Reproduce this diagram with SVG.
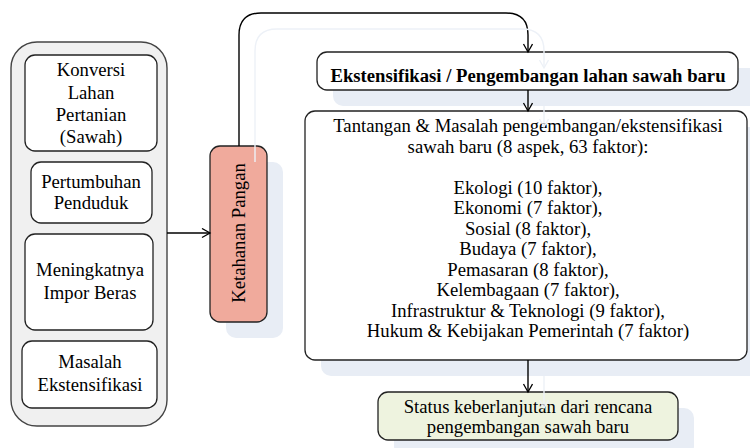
<svg xmlns="http://www.w3.org/2000/svg" width="750" height="448" viewBox="0 0 750 448">
<defs>
<marker id="arr" markerWidth="12" markerHeight="12" refX="9" refY="5" orient="auto" markerUnits="userSpaceOnUse">
<path d="M1,0.5 L9,5 L1,9.5" fill="none" stroke="#000" stroke-width="1.3"/>
</marker>
<marker id="garr" markerWidth="12" markerHeight="12" refX="9" refY="5" orient="auto" markerUnits="userSpaceOnUse">
<path d="M1,0.5 L9,5 L1,9.5" fill="none" stroke="#edf1f7" stroke-width="1.3"/>
</marker>
</defs>
<style>
.box{fill:#fff;stroke:#222;stroke-width:1.3}
.sh{fill:#e8edf5}
.con{fill:none;stroke:#000;stroke-width:1.4}
.ghost{fill:none;stroke:#edf1f7;stroke-width:1.4}
</style>
<rect width="750" height="448" fill="#fff"/>
<g id="shadows">
<rect class="sh" x="226" y="162" width="57" height="176" rx="10"/>
<rect class="sh" x="333" y="68" width="430" height="38" rx="10"/>
<rect class="sh" x="321" y="127" width="440" height="249" rx="10"/>
<rect class="sh" x="394" y="408" width="300" height="48" rx="10"/>
</g>
<g font-family="Liberation Serif, Times New Roman, serif" font-size="18.7" text-anchor="middle" fill="#000">
<g id="left-group">
<rect x="11" y="42" width="156" height="384" rx="26" fill="#f0f0f0" stroke="#444" stroke-width="1.4"/>
</g>
<g id="konversi">
<rect class="box" x="25" y="55" width="132" height="96" rx="10"/>
<text x="91" y="76">Konversi</text>
<text x="91" y="98.5">Lahan</text>
<text x="91" y="120.5">Pertanian</text>
<text x="91" y="143">(Sawah)</text>
</g>
<g id="pertumbuhan">
<rect class="box" x="31" y="162" width="121" height="61" rx="10"/>
<text x="91" y="188">Pertumbuhan</text>
<text x="91" y="209">Penduduk</text>
</g>
<g id="impor">
<rect class="box" x="25" y="234" width="128" height="96" rx="10"/>
<text x="90" y="276">Meningkatnya</text>
<text x="90" y="298.5">Impor Beras</text>
</g>
<g id="masalah">
<rect class="box" x="22" y="341" width="135" height="67" rx="10"/>
<text x="90" y="368">Masalah</text>
<text x="90" y="391">Ekstensifikasi</text>
</g>
<g id="ketahanan">
<rect x="210" y="146" width="57" height="176" rx="10" fill="#f0aa9c" stroke="#222" stroke-width="1.3"/>
<text transform="translate(245,233) rotate(-90)" x="0" y="0">Ketahanan Pangan</text>
</g>
<g id="ekstensifikasi">
<rect class="box" x="317" y="52" width="421" height="38" rx="10"/>
<text font-weight="bold" x="528" y="82">Ekstensifikasi / Pengembangan lahan sawah baru</text>
</g>
<g id="tantangan">
<rect class="box" x="305" y="111" width="442" height="249" rx="10"/>
<text x="528" y="132">Tantangan &amp; Masalah pengembangan/ekstensifikasi</text>
<text x="528" y="152.5">sawah baru (8 aspek, 63 faktor):</text>
<text x="528" y="193.5">Ekologi (10 faktor),</text>
<text x="528" y="214">Ekonomi (7 faktor),</text>
<text x="528" y="234.5">Sosial (8 faktor),</text>
<text x="528" y="255">Budaya (7 faktor),</text>
<text x="528" y="275.5">Pemasaran (8 faktor),</text>
<text x="528" y="296">Kelembagaan (7 faktor),</text>
<text x="528" y="316.5">Infrastruktur &amp; Teknologi (9 faktor),</text>
<text x="528" y="337">Hukum &amp; Kebijakan Pemerintah (7 faktor)</text>
</g>
<g id="status">
<rect x="378" y="392" width="300" height="48" rx="10" fill="#eef3df" stroke="#222" stroke-width="1.3"/>
<text x="528" y="413">Status keberlanjutan dari rencana</text>
<text x="528" y="433">pengembangan sawah baru</text>
</g>
</g>
<g id="connectors">
<path class="con" d="M167,233 H210" marker-end="url(#arr)"/>
<path class="con" d="M239,146 V35 Q239,13 261,13 H506 Q528,13 528,35 V52" marker-end="url(#arr)"/>
<path class="con" d="M528,90 V111" marker-end="url(#arr)"/>
<path class="con" d="M528,360 V392" marker-end="url(#arr)"/>
<path class="ghost" d="M255,162 V51 Q255,29 277,29 H522 Q544,29 544,51 V68" marker-end="url(#garr)"/>
<path class="ghost" d="M544,106 V127" marker-end="url(#garr)"/>
<path class="ghost" d="M544,376 V408" marker-end="url(#garr)"/>
</g>
</svg>
